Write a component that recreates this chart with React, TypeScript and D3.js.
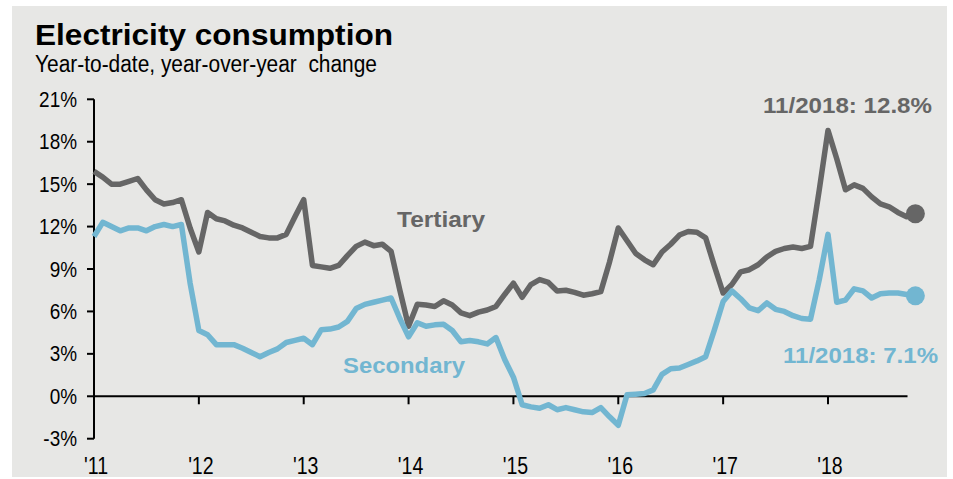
import React from "react";
import * as d3 from "d3";

const yearLabels = ["'11", "'12", "'13", "'14", "'15", "'16", "'17", "'18"];
const yTicks = [-3, 0, 3, 6, 9, 12, 15, 18, 21];

// Monthly YTD yoy change, Jan 2011 .. Nov 2018
const tertiary = [
  15.9, 15.5, 15.0, 15.0, 15.2, 15.4, 14.6, 13.9, 13.6, 13.7, 13.9, 11.9,
  10.2, 13.0, 12.55, 12.4, 12.1, 11.9, 11.6, 11.3, 11.2, 11.2, 11.45, 12.7,
  13.9, 9.25, 9.15, 9.05, 9.25, 9.95, 10.6, 10.9, 10.65, 10.75, 10.25, 7.5,
  4.95, 6.5, 6.45, 6.35, 6.75, 6.45, 5.9, 5.7, 5.95, 6.1, 6.35, 7.2,
  8.0, 7.0, 7.9, 8.25, 8.05, 7.45, 7.5, 7.35, 7.15, 7.25, 7.4, 9.5,
  11.9, 11.0, 10.1, 9.65, 9.3, 10.2, 10.75, 11.4, 11.65, 11.6, 11.2, 9.2,
  7.3, 7.9, 8.8, 8.95, 9.3, 9.85, 10.25, 10.45, 10.55, 10.45, 10.6, 14.6,
  18.8, 16.8, 14.6, 14.95, 14.7, 14.1, 13.6, 13.4, 13.0, 12.7, 12.8,
];
const secondary = [
  11.3, 12.3, 12.0, 11.7, 11.9, 11.9, 11.7, 12.0, 12.15, 12.0, 12.15, 8.0,
  4.65, 4.35, 3.65, 3.65, 3.65, 3.4, 3.1, 2.8, 3.1, 3.35, 3.8, 3.95,
  4.1, 3.65, 4.7, 4.75, 4.9, 5.3, 6.2, 6.5, 6.65, 6.8, 6.95, 5.5,
  4.2, 5.2, 4.95, 5.05, 5.1, 4.65, 3.85, 3.95, 3.85, 3.7, 4.15, 2.6,
  1.35, -0.6, -0.75, -0.85, -0.6, -0.95, -0.8, -0.95, -1.1, -1.15, -0.8, -1.45,
  -2.05, 0.1, 0.15, 0.2, 0.45, 1.55, 1.95, 2.0, 2.25, 2.5, 2.8, 4.7,
  6.7, 7.45, 6.9, 6.25, 6.05, 6.6, 6.15, 6.0, 5.7, 5.5, 5.45, 8.25,
  11.45, 6.65, 6.8, 7.6, 7.45, 6.95, 7.25, 7.3, 7.3, 7.2, 7.1,
];
const seriesNames = ["Tertiary", "Secondary"];
const endLabels = ["11/2018: 12.8%", "11/2018: 7.1%"];

const GRAY = "#666666";
const BLUE = "#72b6d1";
const FONT = "'Liberation Sans', Arial, sans-serif";

function NText({ x, y, sx = 0.88, children, ...rest }: any) {
  return (
    <g transform={`translate(${x},${y}) scale(${sx},1)`}>
      <text x={0} y={0} {...rest}>
        {children}
      </text>
    </g>
  );
}

export default function App() {
  const W = 953, H = 479;
  const months = tertiary.map((_, i) => i);
  const x = d3.scaleLinear().domain([0, 84]).range([94, 828]);
  const y = d3.scaleLinear().domain([-3, 21]).range([438.7, 99.3]);
  const line = d3
    .line<number>()
    .x((_, i) => x(months[i]))
    .y((d) => y(d));
  const last = months.length - 1;
  const axisEnd = x(last - 0.9);

  return (
    <svg
      width={W}
      height={H}
      style={{ position: "absolute", left: 0, top: 0, background: "#fff" }}
      fontFamily={FONT}
    >
      <rect x={12} y={6} width={935} height={471} fill="#e7e7e5" />
      <text x={35} y={45} fontSize={29} fontWeight="bold" fill="#000" textLength={358} lengthAdjust="spacingAndGlyphs">
        Electricity consumption
      </text>
      <text x={35} y={72} fontSize={23} fill="#000" textLength={342} lengthAdjust="spacingAndGlyphs" style={{ whiteSpace: "pre" }}>
        {"Year-to-date, year-over-year  change"}
      </text>

      {/* y axis */}
      <line x1={94} x2={94} y1={y(21)} y2={y(-3)} stroke="#000" strokeWidth={2} />
      {yTicks.map((t) => (
        <g key={t}>
          <line x1={87} x2={94} y1={y(t)} y2={y(t)} stroke="#000" strokeWidth={2} />
          <NText x={77} y={y(t) + 7.5} fontSize={21.5} textAnchor="end" fill="#000">
            {t}%
          </NText>
        </g>
      ))}

      {/* x axis */}
      <line x1={94} x2={axisEnd} y1={y(0)} y2={y(0)} stroke="#000" strokeWidth={2} />
      {yearLabels.map((lab, i) => (
        <g key={lab}>
          {i > 0 && (
            <line x1={x(i * 12)} x2={x(i * 12)} y1={y(0)} y2={y(0) + 8} stroke="#000" strokeWidth={2} />
          )}
          <NText x={x(i * 12) + 2} y={474} sx={0.85} fontSize={23} textAnchor="middle" fill="#000">
            {lab}
          </NText>
        </g>
      ))}

      <path d={line(tertiary) || ""} fill="none" stroke={GRAY} strokeWidth={5.5} strokeLinejoin="round" />
      <path d={line(secondary) || ""} fill="none" stroke={BLUE} strokeWidth={5.5} strokeLinejoin="round" />
      <circle cx={x(last)} cy={y(tertiary[last]) - 1.5} r={9.5} fill={GRAY} />
      <circle cx={x(last)} cy={y(secondary[last])} r={9.5} fill={BLUE} />

      <text x={397} y={227} fontSize={22.5} fontWeight="bold" fill={GRAY} textLength={88} lengthAdjust="spacingAndGlyphs">
        {seriesNames[0]}
      </text>
      <text x={343} y={373} fontSize={22.5} fontWeight="bold" fill={BLUE} textLength={122} lengthAdjust="spacingAndGlyphs">
        {seriesNames[1]}
      </text>
      <text x={763} y={113} fontSize={21.5} fontWeight="bold" fill={GRAY} textLength={169} lengthAdjust="spacingAndGlyphs">
        {endLabels[0]}
      </text>
      <text x={783} y={363} fontSize={21.5} fontWeight="bold" fill={BLUE} textLength={155} lengthAdjust="spacingAndGlyphs">
        {endLabels[1]}
      </text>
    </svg>
  );
}
